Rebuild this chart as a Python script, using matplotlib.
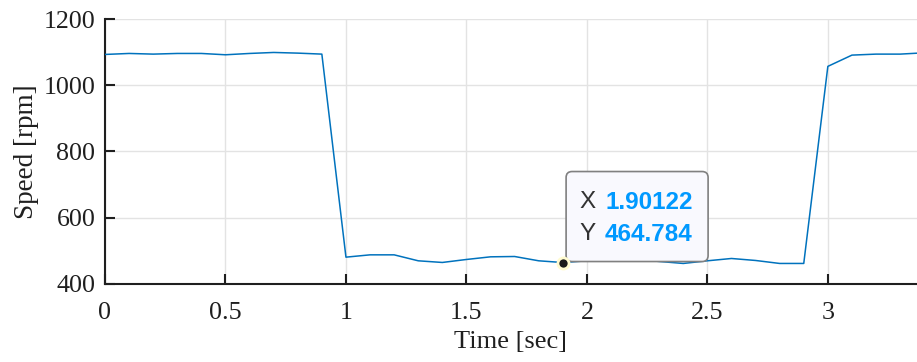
import matplotlib
matplotlib.use("Agg")
import matplotlib.pyplot as plt
import matplotlib.transforms as mtransforms
from matplotlib.patches import FancyBboxPatch

# Speed samples, one every 0.1 s
time_s = [0.0, 0.1, 0.2, 0.3, 0.4, 0.5, 0.6, 0.7, 0.8, 0.9,
          1.0, 1.1, 1.2, 1.3, 1.4, 1.5, 1.6, 1.7, 1.8, 1.9,
          2.0, 2.1, 2.2, 2.3, 2.4, 2.5, 2.6, 2.7, 2.8, 2.9,
          3.0, 3.1, 3.2, 3.3, 3.4]
speed_rpm = [1093, 1096, 1094, 1096, 1096, 1092, 1096, 1099, 1097, 1094,
             481, 488, 488, 470, 465, 474, 482, 483, 470, 464.8,
             470, 472, 475, 468, 462, 470, 477, 471, 462, 462,
             1057, 1091, 1094, 1094, 1098]

# Data tip
tip_x = 1.90122
tip_y = 464.784

x_ticks = [0, 0.5, 1, 1.5, 2, 2.5, 3]
x_tick_labels = ["0", "0.5", "1", "1.5", "2", "2.5", "3"]
y_ticks = [400, 600, 800, 1000, 1200]

serif = ["Liberation Serif", "DejaVu Serif"]
ink = "#1f1f1f"

fig = plt.figure(figsize=(9.17, 3.62), dpi=100)
ax = fig.add_axes([0.1145, 0.2155, 0.8855, 0.732])

ax.plot(time_s, speed_rpm, color="#0072BD", lw=1.1, zorder=3)
ax.set_xlim(0, 3.37)
ax.set_ylim(400, 1200)
ax.set_xticks(x_ticks)
ax.set_xticklabels(x_tick_labels)
ax.set_yticks(y_ticks)

ax.grid(True, color="#e3e3e3", lw=1.0)
ax.set_axisbelow(True)
for side in ("top", "right"):
    ax.spines[side].set_visible(False)
for side in ("left", "bottom"):
    ax.spines[side].set_color(ink)
    ax.spines[side].set_linewidth(1.5)
ax.tick_params(direction="in", length=7, width=1.5, color=ink,
               labelsize=18.7, labelcolor=ink)
ax.tick_params(axis="x", pad=13)
ax.tick_params(axis="y", pad=7)
for lab in ax.get_xticklabels() + ax.get_yticklabels():
    lab.set_family(serif)

ax.set_xlabel("Time [sec]", fontsize=19, family=serif, color=ink, labelpad=5)
ax.set_ylabel("Speed [rpm]", fontsize=19.5, family=serif, color=ink, labelpad=3)

# Data tip marker
ax.plot([tip_x], [tip_y], "o", ms=8, mfc="#1a1a1a", mec="#fffbd0", mew=2.0,
        zorder=6, clip_on=False)

# Data tip box, positioned in inches relative to the marked point
tip_trans = fig.dpi_scale_trans + mtransforms.ScaledTranslation(tip_x, tip_y, ax.transData)
box = FancyBboxPatch((0.03, 0.01), 1.42, 0.90,
                     boxstyle="round,pad=0,rounding_size=0.06",
                     transform=tip_trans, facecolor="#f9f9fe", edgecolor="#808080",
                     lw=1.2, zorder=5, clip_on=False)
ax.add_patch(box)

sans = ["Liberation Sans", "DejaVu Sans"]
for name, val, yy in [("X", f"{tip_x:.5f}", 0.605), ("Y", f"{tip_y:.3f}", 0.285)]:
    ax.text(0.165, yy, name, transform=tip_trans, fontsize=17.5, family=sans,
            color="#333333", va="center", ha="left", zorder=7)
    ax.text(0.42, yy, val, transform=tip_trans, fontsize=17.5, family=sans,
            color="#0099ff", fontweight="bold", va="center", ha="left", zorder=7)

fig.savefig("out.png", dpi=100)
